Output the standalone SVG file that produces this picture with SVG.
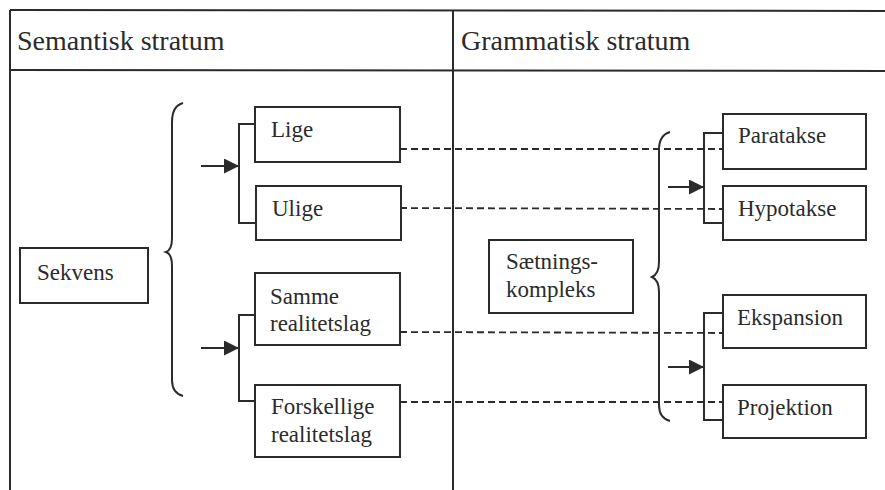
<svg xmlns="http://www.w3.org/2000/svg" width="885" height="490" viewBox="0 0 885 490">
<defs>
<style>
.ln{stroke:#2b2b2b;stroke-width:2;fill:none}
.box{stroke:#2b2b2b;stroke-width:2;fill:#fff}
.dash{stroke:#2b2b2b;stroke-width:1.8;fill:none;stroke-dasharray:7,4}
.t{font-family:"Liberation Serif","Times New Roman",serif;font-size:23px;fill:#2b2b2b}
.h{font-family:"Liberation Serif","Times New Roman",serif;font-size:28px;fill:#2b2b2b}
</style>
<marker id="ah" viewBox="0 0 10 10" refX="10" refY="5" markerWidth="17" markerHeight="15" markerUnits="userSpaceOnUse" orient="auto">
<path d="M0,0 L10,5 L0,10 Z" fill="#2b2b2b"/>
</marker>
</defs>
<rect width="885" height="490" fill="#fff"/>
<g id="table">
<line class="ln" x1="10" y1="10" x2="885" y2="11"/>
<line class="ln" x1="10" y1="70" x2="885" y2="71"/>
<line class="ln" x1="10" y1="10" x2="10" y2="490"/>
<line class="ln" x1="453" y1="11" x2="453" y2="490"/>
<text class="h" x="17" y="50">Semantisk stratum</text>
<text class="h" x="461" y="50">Grammatisk stratum</text>
</g>
<g id="connectors">
<line class="dash" x1="400" y1="149" x2="723" y2="149"/>
<line class="dash" x1="400" y1="208" x2="723" y2="209"/>
<line class="dash" x1="400" y1="332" x2="723" y2="333"/>
<line class="dash" x1="400" y1="402" x2="723" y2="402"/>
<path class="ln" d="M183,103 Q172,106 172,122 L172,238 Q172,250 166,252 Q172,254 172,266 L172,380 Q172,393 183,396"/>
<path class="ln" d="M670,132 Q659,135 659,150 L659,262 Q659,274 652,277 Q659,280 659,292 L659,405 Q659,418 670,421"/>
<path class="ln" d="M255,124 L239,124 L239,223 L255,223"/>
<line class="ln" x1="201" y1="166" x2="239" y2="166" marker-end="url(#ah)"/>
<path class="ln" d="M255,315 L239,315 L239,401 L255,401"/>
<line class="ln" x1="201" y1="348" x2="239" y2="348" marker-end="url(#ah)"/>
<path class="ln" d="M723,133 L704,133 L704,223 L723,223"/>
<line class="ln" x1="668" y1="187" x2="704" y2="187" marker-end="url(#ah)"/>
<path class="ln" d="M723,313 L704,313 L704,420 L723,420"/>
<line class="ln" x1="668" y1="367" x2="704" y2="367" marker-end="url(#ah)"/>
</g>
<g id="sekvens">
<rect class="box" x="20" y="248" width="128" height="55"/>
<text class="t" x="37" y="280">Sekvens</text>
</g>
<g id="lige">
<rect class="box" x="255" y="107" width="145" height="55"/>
<text class="t" x="271" y="137">Lige</text>
</g>
<g id="ulige">
<rect class="box" x="256" y="186" width="145" height="54"/>
<text class="t" x="272" y="216">Ulige</text>
</g>
<g id="samme">
<rect class="box" x="255" y="273" width="145" height="72"/>
<text class="t" x="270" y="304">Samme</text>
<text class="t" x="270" y="331">realitetslag</text>
</g>
<g id="forskellige">
<rect class="box" x="255" y="385" width="145" height="72"/>
<text class="t" x="271" y="414">Forskellige</text>
<text class="t" x="271" y="442">realitetslag</text>
</g>
<g id="saetningskompleks">
<rect class="box" x="489" y="240" width="144" height="73"/>
<text class="t" x="506" y="269">Sætnings-</text>
<text class="t" x="506" y="297">kompleks</text>
</g>
<g id="paratakse">
<rect class="box" x="723" y="114" width="143" height="55"/>
<text class="t" x="738" y="143">Paratakse</text>
</g>
<g id="hypotakse">
<rect class="box" x="723" y="186" width="143" height="54"/>
<text class="t" x="738" y="216">Hypotakse</text>
</g>
<g id="ekspansion">
<rect class="box" x="723" y="295" width="143" height="53"/>
<text class="t" x="737" y="325">Ekspansion</text>
</g>
<g id="projektion">
<rect class="box" x="723" y="385" width="143" height="53"/>
<text class="t" x="737" y="415">Projektion</text>
</g>
</svg>
